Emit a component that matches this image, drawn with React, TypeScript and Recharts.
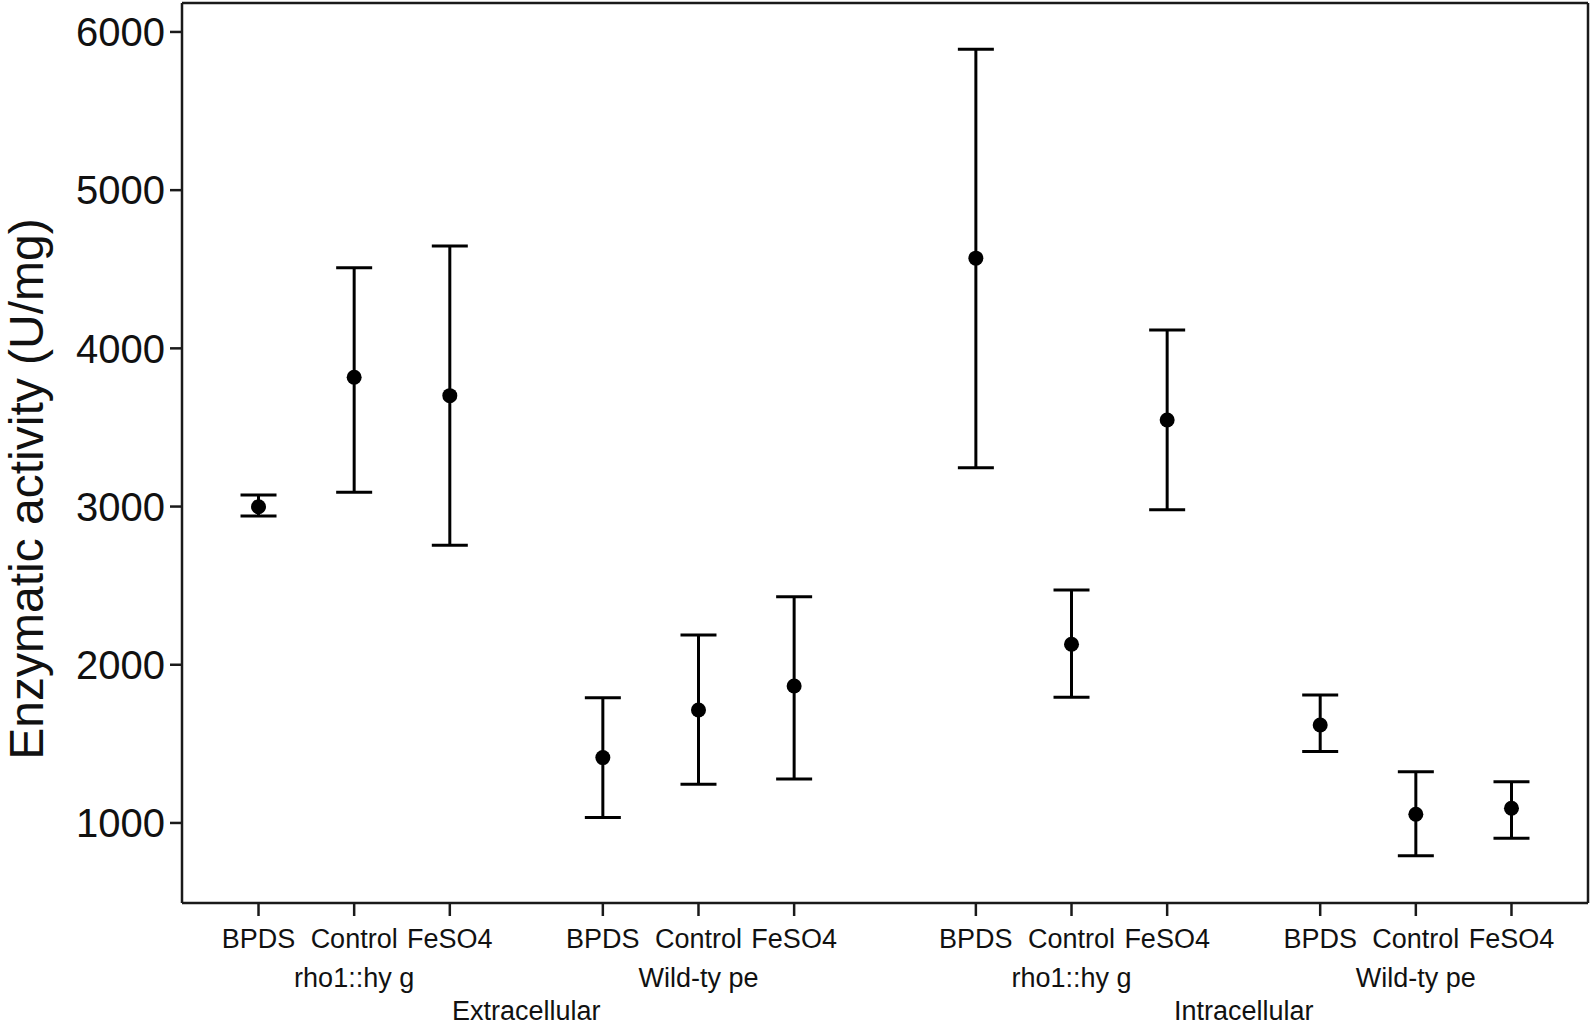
import { ScatterChart, Scatter, XAxis, YAxis, ErrorBar, Label } from "recharts";

const conditions = ["BPDS", "Control", "FeSO4"];
const genotypes = ["rho1::hy g", "Wild-ty pe"];
const locations = ["Extracellular", "Intracellular"];

// one row per location/genotype group, values in condition order
const means = [
  [2999, 3817, 3701], // Extracellular, rho1::hyg
  [1413, 1714, 1866], // Extracellular, wild type
  [4570, 2130, 3547], // Intracellular, rho1::hyg
  [1619, 1055, 1093], // Intracellular, wild type
];
const upper = [
  [3073, 4510, 4647],
  [1792, 2188, 2430],
  [5891, 2473, 4116],
  [1809, 1324, 1261],
];
const lower = [
  [2941, 3090, 2755],
  [1034, 1245, 1278],
  [3246, 1795, 2979],
  [1451, 793, 903],
];

const yTicks = [1000, 2000, 3000, 4000, 5000, 6000];
const yDomain = [494, 6183];

// slot spacing on the category axis (one slot per condition)
const GENO_STEP = 3.6;
const LOC_STEP = 7.5;
const xDomain = [-0.8, 13.9];

const points: { x: number; y: number; err: number[] }[] = [];
locations.forEach((_, l) => {
  genotypes.forEach((_, g) => {
    const gi = l * genotypes.length + g;
    conditions.forEach((_, c) => {
      const y = means[gi][c];
      points.push({
        x: c + g * GENO_STEP + l * LOC_STEP,
        y,
        err: [y - lower[gi][c], upper[gi][c] - y],
      });
    });
  });
});

const condTicks = points.map((p) => p.x);
const genoTicks = points.filter((_, i) => i % 3 === 1).map((p) => p.x);
const locTicks = locations.map((_, l) => (points[l * 6].x + points[l * 6 + 5].x) / 2);

const FONT = "'Liberation Sans', Arial, sans-serif";
const INK = "#1a1a1a";

const makeTick = (labels: string[], dy: number, size: number) => (props: any) => {
  const { x, y, index } = props;
  return (
    <text x={x} y={y} dy={dy} textAnchor="middle" fontSize={size} fontFamily={FONT} fill="#111">
      {labels[index % labels.length]}
    </text>
  );
};

const Dot = (p: any) => <circle cx={p.cx} cy={p.cy} r={7.5} fill="#000" />;
const NoDot = () => <g />;

export default function App() {
  return (
    <div style={{ position: "absolute", left: 0, top: 0, background: "#fff" }}>
      <ScatterChart width={1591} height={1027} margin={{ top: 2, right: 2, bottom: 0, left: 0 }}>
        <XAxis
          xAxisId="cond"
          type="number"
          dataKey="x"
          domain={xDomain}
          allowDataOverflow
          ticks={condTicks}
          interval={0}
          height={50}
          tickSize={13}
          tickMargin={0}
          axisLine={{ stroke: INK, strokeWidth: 2.5 }}
          tickLine={{ stroke: INK, strokeWidth: 2.5 }}
          tick={makeTick(conditions, 32, 27)}
        />
        <XAxis
          xAxisId="geno"
          type="number"
          dataKey="x"
          domain={xDomain}
          allowDataOverflow
          ticks={genoTicks}
          interval={0}
          height={38}
          tickSize={0}
          tickMargin={0}
          axisLine={false}
          tickLine={false}
          tick={makeTick(genotypes, 34, 27)}
        />
        <XAxis
          xAxisId="loc"
          type="number"
          dataKey="x"
          domain={xDomain}
          allowDataOverflow
          ticks={locTicks}
          interval={0}
          height={36}
          tickSize={0}
          tickMargin={0}
          axisLine={false}
          tickLine={false}
          tick={makeTick(locations, 29, 27)}
        />
        <XAxis
          xAxisId="top"
          orientation="top"
          type="number"
          dataKey="x"
          domain={xDomain}
          allowDataOverflow
          height={1}
          tick={false}
          tickLine={false}
          axisLine={{ stroke: INK, strokeWidth: 2.5 }}
        />
        <YAxis
          yAxisId="left"
          type="number"
          dataKey="y"
          domain={yDomain}
          allowDataOverflow
          ticks={yTicks}
          interval={0}
          width={182}
          tickSize={12}
          tickMargin={5}
          axisLine={{ stroke: INK, strokeWidth: 2.5 }}
          tickLine={{ stroke: INK, strokeWidth: 2.5 }}
          tick={{ fontSize: 40, fontFamily: FONT, fill: "#111" }}
        >
          <Label
            content={(p: any) => {
              const vb = p.viewBox;
              const cy = vb.y + vb.height / 2 + 36;
              return (
                <text
                  transform={`translate(43, ${cy}) rotate(-90)`}
                  textAnchor="middle"
                  fontSize={48}
                  fontFamily={FONT}
                  fill="#111"
                >
                  Enzymatic activity (U/mg)
                </text>
              );
            }}
          />
        </YAxis>
        <YAxis
          yAxisId="right"
          orientation="right"
          type="number"
          dataKey="y"
          domain={yDomain}
          allowDataOverflow
          width={1}
          tick={false}
          tickLine={false}
          axisLine={{ stroke: INK, strokeWidth: 2.5 }}
        />
        {/* invisible series so the extra label / frame axes get drawn */}
        <Scatter data={points} xAxisId="geno" yAxisId="right" shape={NoDot} isAnimationActive={false} />
        <Scatter data={points} xAxisId="loc" yAxisId="right" shape={NoDot} isAnimationActive={false} />
        <Scatter data={points} xAxisId="top" yAxisId="right" shape={NoDot} isAnimationActive={false} />
        <Scatter
          data={points}
          xAxisId="cond"
          yAxisId="left"
          shape={Dot}
          isAnimationActive={false}
        >
          <ErrorBar
            dataKey="err"
            direction="y"
            width={18}
            stroke="#000"
            strokeWidth={3}
            isAnimationActive={false}
          />
        </Scatter>
      </ScatterChart>
    </div>
  );
}
